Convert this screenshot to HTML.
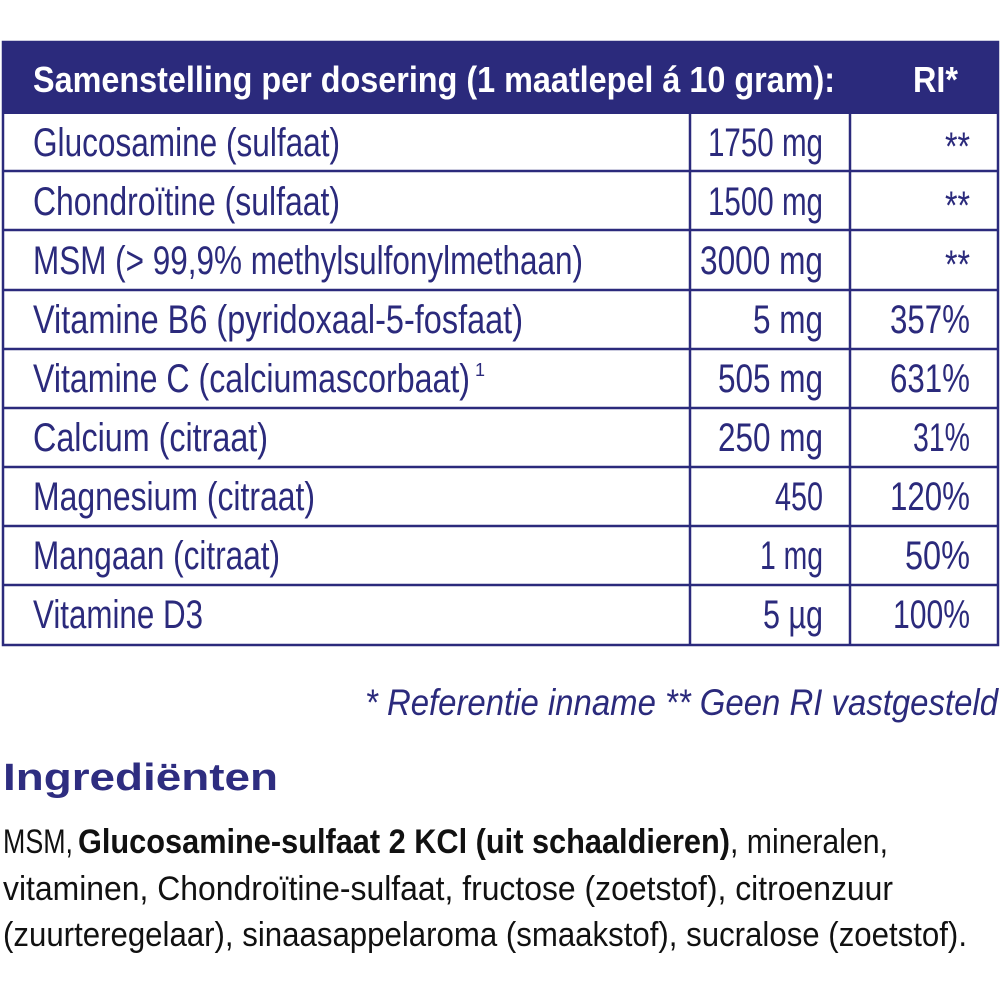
<!DOCTYPE html>
<html><head><meta charset="utf-8"><style>html,body{margin:0;padding:0;background:#fff}svg{display:block}</style></head><body>
<svg width="1000" height="1000" viewBox="0 0 1000 1000" xmlns="http://www.w3.org/2000/svg" font-family="Liberation Sans, sans-serif">
<rect x="3" y="42" width="995" height="72" fill="#2b2a7c"/>
<g stroke="#2b2a7c" stroke-width="2.5" fill="none">
<rect x="3" y="42" width="995" height="603"/>
<line x1="3" y1="171" x2="998" y2="171"/><line x1="3" y1="230" x2="998" y2="230"/>
<line x1="3" y1="290" x2="998" y2="290"/><line x1="3" y1="349" x2="998" y2="349"/>
<line x1="3" y1="408" x2="998" y2="408"/><line x1="3" y1="467" x2="998" y2="467"/>
<line x1="3" y1="526" x2="998" y2="526"/><line x1="3" y1="585" x2="998" y2="585"/>
<line x1="690" y1="114" x2="690" y2="645"/><line x1="850" y1="114" x2="850" y2="645"/>
</g>
<g fill="#fff" font-weight="bold" font-size="36">
<text x="33" y="92" textLength="802" lengthAdjust="spacingAndGlyphs">Samenstelling per dosering (1 maatlepel á 10 gram):</text>
<text x="913" y="92" textLength="45" lengthAdjust="spacingAndGlyphs">RI*</text>
</g>
<g fill="#2b2a7c" font-size="40">
<text x="33" y="156" textLength="307" lengthAdjust="spacingAndGlyphs">Glucosamine (sulfaat)</text>
<text x="33" y="215" textLength="307" lengthAdjust="spacingAndGlyphs">Chondroïtine (sulfaat)</text>
<text x="33" y="274" textLength="550" lengthAdjust="spacingAndGlyphs">MSM (&gt; 99,9% methylsulfonylmethaan)</text>
<text x="33" y="333" textLength="490" lengthAdjust="spacingAndGlyphs">Vitamine B6 (pyridoxaal-5-fosfaat)</text>
<text x="33" y="392" textLength="437" lengthAdjust="spacingAndGlyphs">Vitamine C (calciumascorbaat)</text>
<text x="475" y="376" font-size="18">1</text>
<text x="33" y="451" textLength="235" lengthAdjust="spacingAndGlyphs">Calcium (citraat)</text>
<text x="33" y="510" textLength="282" lengthAdjust="spacingAndGlyphs">Magnesium (citraat)</text>
<text x="33" y="569" textLength="247" lengthAdjust="spacingAndGlyphs">Mangaan (citraat)</text>
<text x="33" y="628" textLength="170" lengthAdjust="spacingAndGlyphs">Vitamine D3</text>

<text x="708" y="156" textLength="115" lengthAdjust="spacingAndGlyphs">1750 mg</text>
<text x="708" y="215" textLength="115" lengthAdjust="spacingAndGlyphs">1500 mg</text>
<text x="700" y="274" textLength="123" lengthAdjust="spacingAndGlyphs">3000 mg</text>
<text x="753" y="333" textLength="70" lengthAdjust="spacingAndGlyphs">5 mg</text>
<text x="718" y="392" textLength="105" lengthAdjust="spacingAndGlyphs">505 mg</text>
<text x="718" y="451" textLength="105" lengthAdjust="spacingAndGlyphs">250 mg</text>
<text x="775" y="510" textLength="48" lengthAdjust="spacingAndGlyphs">450</text>
<text x="760" y="569" textLength="63" lengthAdjust="spacingAndGlyphs">1 mg</text>
<text x="763" y="628" textLength="60" lengthAdjust="spacingAndGlyphs">5 µg</text>

<text x="945" y="160" textLength="25" lengthAdjust="spacingAndGlyphs">**</text>
<text x="945" y="219" textLength="25" lengthAdjust="spacingAndGlyphs">**</text>
<text x="945" y="278" textLength="25" lengthAdjust="spacingAndGlyphs">**</text>
<text x="890" y="333" textLength="80" lengthAdjust="spacingAndGlyphs">357%</text>
<text x="890" y="392" textLength="80" lengthAdjust="spacingAndGlyphs">631%</text>
<text x="913" y="451" textLength="57" lengthAdjust="spacingAndGlyphs">31%</text>
<text x="890" y="510" textLength="80" lengthAdjust="spacingAndGlyphs">120%</text>
<text x="905" y="569" textLength="65" lengthAdjust="spacingAndGlyphs">50%</text>
<text x="893" y="628" textLength="77" lengthAdjust="spacingAndGlyphs">100%</text>

<text x="365" y="715" font-style="italic" font-size="37" textLength="633" lengthAdjust="spacingAndGlyphs">* Referentie inname  ** Geen RI vastgesteld</text>
</g>
<text x="3" y="790" fill="#2e2d80" font-weight="bold" font-size="38" textLength="275" lengthAdjust="spacingAndGlyphs">Ingrediënten</text>
<g fill="#111" font-size="34">
<text x="3" y="853" textLength="70" lengthAdjust="spacingAndGlyphs">MSM,</text>
<text x="78" y="853" font-weight="bold" textLength="652" lengthAdjust="spacingAndGlyphs">Glucosamine-sulfaat 2 KCl (uit schaaldieren)</text>
<text x="730" y="853" textLength="158" lengthAdjust="spacingAndGlyphs">, mineralen,</text>
<text x="3" y="900" textLength="890" lengthAdjust="spacingAndGlyphs">vitaminen, Chondroïtine-sulfaat, fructose (zoetstof), citroenzuur</text>
<text x="3" y="946" textLength="964" lengthAdjust="spacingAndGlyphs">(zuurteregelaar), sinaasappelaroma (smaakstof), sucralose (zoetstof).</text>
</g>
</svg>
</body></html>
